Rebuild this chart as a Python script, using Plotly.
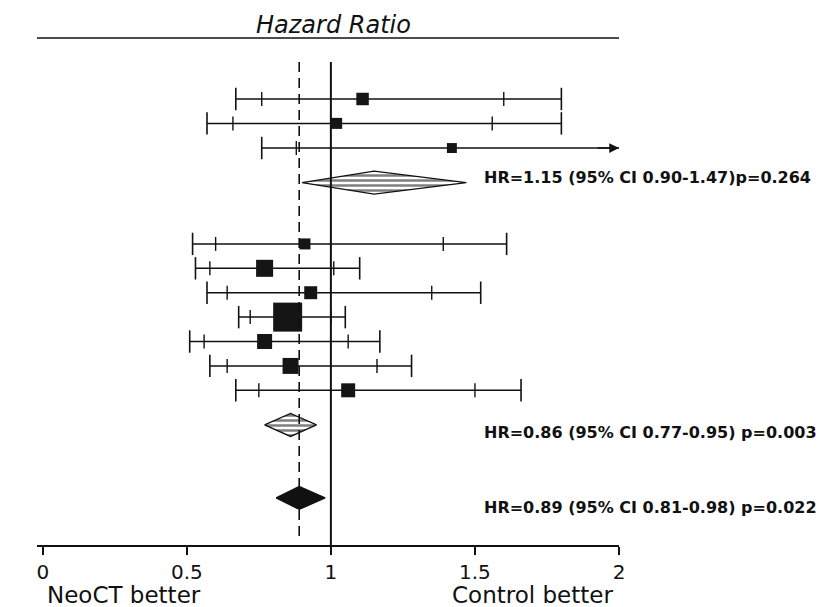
import plotly.graph_objects as go

# ---------------- data ----------------
hr         = [1.11, 1.02, 1.42, 0.91, 0.77, 0.93, 0.85, 0.77, 0.86, 1.06]
inner_lo   = [0.76, 0.66, 0.88, 0.60, 0.58, 0.64, 0.72, 0.56, 0.64, 0.75]
inner_hi   = [1.60, 1.56, None, 1.39, 1.01, 1.35, 1.00, 1.06, 1.16, 1.50]   # None = beyond axis (arrow)
outer_lo   = [0.67, 0.57, 0.76, 0.52, 0.53, 0.57, 0.68, 0.51, 0.58, 0.67]
outer_hi   = [1.80, 1.80, None, 1.61, 1.10, 1.52, 1.05, 1.17, 1.28, 1.66]
weight_pct = [6.3, 4.9, 4.0, 4.9, 11.7, 6.8, 34.0, 9.1, 10.3, 7.9]

pooled_hr  = [1.15, 0.86, 0.89]
pooled_lo  = [0.90, 0.77, 0.81]
pooled_hi  = [1.47, 0.95, 0.98]
pooled_txt = ["HR=1.15 (95% CI 0.90-1.47)p=0.264",
              "HR=0.86 (95% CI 0.77-0.95) p=0.003",
              "HR=0.89 (95% CI 0.81-0.98) p=0.022"]

tick_vals = [0, 0.5, 1, 1.5, 2]
tick_text = ["0", "0.5", "1", "1.5", "2"]

# ---------------- layout constants ----------------
study_row  = [0, 1, 2.01, 5.94, 6.94, 7.94, 8.94, 9.94, 10.94, 11.94]
pooled_row = [3.43, 13.36, 16.35]
X_MIN, X_MAX = -0.02, 2.0
Y_BOTTOM, Y_TOP = 18.28, -2.5
DIAMOND_H = 0.47
FONT = "DejaVu Sans"
INK = "#111111"

fig = go.Figure()

# CI lines
lx, ly = [], []
for i in range(len(hr)):
    hi = outer_hi[i] if outer_hi[i] is not None else X_MAX
    lx += [outer_lo[i], hi, None]
    ly += [study_row[i], study_row[i], None]
fig.add_trace(go.Scatter(x=lx, y=ly, mode="lines", line=dict(color=INK, width=1.5),
                         hoverinfo="skip", showlegend=False, cliponaxis=False))

# outer caps
cx, cy = [], []
for i in range(len(hr)):
    for v in (outer_lo[i], outer_hi[i]):
        if v is not None:
            cx.append(v); cy.append(study_row[i])
fig.add_trace(go.Scatter(x=cx, y=cy, mode="markers", showlegend=False, cliponaxis=False,
                         marker=dict(symbol="line-ns", size=16, color=INK, opacity=1,
                                     line=dict(color=INK, width=1.6))))
# inner ticks
ix, iy = [], []
for i in range(len(hr)):
    for v in (inner_lo[i], inner_hi[i]):
        if v is not None:
            ix.append(v); iy.append(study_row[i])
fig.add_trace(go.Scatter(x=ix, y=iy, mode="markers", showlegend=False, cliponaxis=False,
                         marker=dict(symbol="line-ns", size=10, color=INK, opacity=1,
                                     line=dict(color=INK, width=1.4))))

# squares (size ~ sqrt of weight)
wmax = max(weight_pct)
sizes = [29 * (w / wmax) ** 0.5 for w in weight_pct]
fig.add_trace(go.Scatter(x=hr, y=study_row, mode="markers", showlegend=False, cliponaxis=False,
                         marker=dict(symbol="square", size=sizes, color="#151515", opacity=1,
                                     line=dict(width=0))))

# diamonds
for k in range(3):
    y0 = pooled_row[k]
    dx = [pooled_lo[k], pooled_hr[k], pooled_hi[k], pooled_hr[k], pooled_lo[k]]
    dy = [y0, y0 - DIAMOND_H, y0, y0 + DIAMOND_H, y0]
    if k < 2:
        fig.add_trace(go.Scatter(x=dx, y=dy, mode="lines", fill="toself", showlegend=False,
                                 line=dict(color=INK, width=1.3), fillcolor="white",
                                 fillpattern=dict(shape="-", fgcolor="#000000", bgcolor="white",
                                                  size=5, solidity=0.5),
                                 cliponaxis=False))
    else:
        fig.add_trace(go.Scatter(x=dx, y=dy, mode="lines", fill="toself", showlegend=False,
                                 line=dict(color=INK, width=1.3), fillcolor=INK,
                                 cliponaxis=False))

shapes = [
    dict(type="line", xref="x", yref="y", x0=1, x1=1, y0=-1.52, y1=Y_BOTTOM,
         line=dict(color=INK, width=2)),
    dict(type="line", xref="x", yref="y", x0=pooled_hr[2], x1=pooled_hr[2], y0=-1.52, y1=Y_BOTTOM - 0.2,
         line=dict(color=INK, width=1.6, dash="10px,6px")),
    dict(type="line", xref="x", yref="paper", x0=X_MIN, x1=X_MAX, y0=1, y1=1,
         line=dict(color=INK, width=1.5)),
]

annotations = [
    dict(text="<i>Hazard Ratio</i>", x=1.01, xref="x", y=1, yref="paper", yshift=13,
         showarrow=False, font=dict(family=FONT, size=24, color=INK), xanchor="center", yanchor="middle"),
    dict(text="NeoCT better", x=0.008, xref="x", y=0, yref="paper", yshift=-50,
         showarrow=False, font=dict(family=FONT, size=23, color=INK), xanchor="left", yanchor="middle"),
    dict(text="Control better", x=1.985, xref="x", y=0, yref="paper", yshift=-50,
         showarrow=False, font=dict(family=FONT, size=23, color=INK), xanchor="right", yanchor="middle"),
    # arrow for truncated CI of study 3
    dict(x=X_MAX, y=study_row[2], xref="x", yref="y", ax=X_MAX - 0.08, ay=study_row[2],
         axref="x", ayref="y", showarrow=True, arrowhead=2, arrowsize=1.3, arrowwidth=1.5,
         arrowcolor=INK, text=""),
]
shifts = [5, -8, -10]
for k in range(3):
    annotations.append(dict(text="<b>%s</b>" % pooled_txt[k], x=1.525, xref="x", y=pooled_row[k],
                            yref="y", yshift=shifts[k], showarrow=False, xanchor="left",
                            yanchor="middle", font=dict(family=FONT, size=16, color=INK)))

fig.update_layout(
    width=823, height=607,
    margin=dict(l=37, r=204.3, t=38, b=62),
    paper_bgcolor="white", plot_bgcolor="white",
    shapes=shapes, annotations=annotations,
    xaxis=dict(range=[X_MIN, X_MAX], showgrid=False, zeroline=False, showline=True,
               linecolor=INK, linewidth=1.5, ticks="outside", ticklen=8, tickwidth=1.5,
               tickcolor=INK, tickvals=tick_vals, ticktext=tick_text,
               tickfont=dict(family=FONT, size=20, color=INK)),
    yaxis=dict(range=[Y_BOTTOM, Y_TOP], visible=False),
    showlegend=False,
)

fig.write_html("out.html")
